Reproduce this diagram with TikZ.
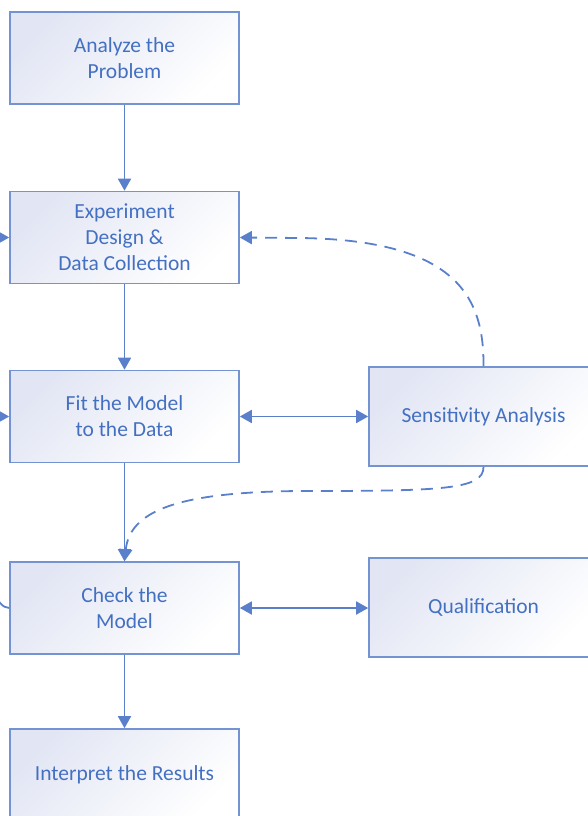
\documentclass[tikz,border=0pt]{standalone}
\usepackage{fontspec}
\setmainfont{Carlito}
\usetikzlibrary{arrows.meta}
\definecolor{boxline}{HTML}{7393D3}
\definecolor{boxtext}{HTML}{4470C2}
\definecolor{conn}{HTML}{5A80CC}
\definecolor{boxfill}{HTML}{E2E6F4}
\tikzset{
  stepbox/.style={draw=boxline, line width=1.6pt, rectangle, top color=boxfill, bottom color=white, shading angle=45,
    minimum width=229pt, minimum height=92pt, inner sep=0pt, align=center, text=boxtext,
    font=\fontsize{21.5}{26}\selectfont},
  sidebox/.style={stepbox, minimum height=99pt},
  flow/.style={draw=conn, line width=1.8pt, -{Triangle[width=13pt,length=12pt]}},
  twoway/.style={draw=conn, line width=1.8pt, {Triangle[width=13pt,length=12pt]}-{Triangle[width=13pt,length=12pt]}},
  feedback/.style={flow, dash pattern=on 12pt off 8pt},
}
\begin{document}
\begin{tikzpicture}[x=1pt,y=-1pt]
\useasboundingbox (0,0) rectangle (587,816);
\node[stepbox] (ana) at (124.5,58) {Analyze the\\Problem};
\node[stepbox] (exp) at (124.5,237.5) {Experiment\\Design \&\\Data Collection};
\node[stepbox] (fit) at (124.5,416.5) {Fit the Model\\to the Data};
\node[stepbox] (chk) at (124.5,608) {Check the\\Model};
\node[stepbox] (res) at (124.5,775) {Interpret the Results};
\node[sidebox] (sen) at (483.5,416.5) {Sensitivity Analysis};
\node[sidebox] (qua) at (483.5,607.5) {Qualification};

\draw[flow] (ana) -- (exp);
\draw[flow] (exp) -- (fit);
\draw[flow] (fit) -- (chk);
\draw[flow] (chk) -- (res);
\draw[twoway] (fit.east) -- (sen.west|-fit.east);
\draw[twoway] (chk.east) -- (qua.west|-chk.east);

\draw[feedback] (sen.north) .. controls (484,300) and (460,240) .. (300,238) -- (exp.east);
\draw[feedback] (sen.south) .. controls (484,490) and (440,491) .. (300,491)
  .. controls (180,492) and (130,510) .. (chk.north);

\coordinate (l1) at (-40,237.5);
\coordinate (l2) at (-40,416.5);
\coordinate (l3) at (-6,594);
\draw[flow] (l1) -- (exp.west);
\draw[flow] (l2) -- (fit.west);
\draw[conn, line width=1.8pt] (chk.west) .. controls (2,608) and (-2,600) .. (l3);
\end{tikzpicture}
\end{document}
